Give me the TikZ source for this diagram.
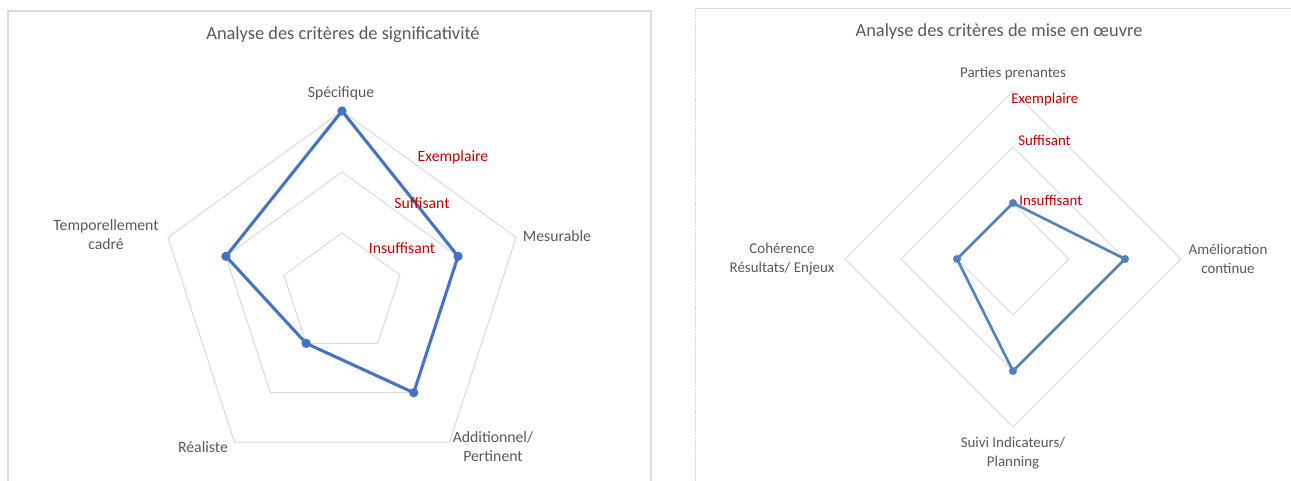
\documentclass[tikz,border=0pt]{standalone}
\usepackage{fontspec}
\setmainfont{Carlito}
\definecolor{txtgray}{HTML}{595959}
\definecolor{gridgray}{HTML}{D9D9D9}
\definecolor{framegray}{HTML}{DCDCDC}
\definecolor{serieA}{HTML}{4472C4}
\definecolor{serieB}{HTML}{4F81BD}
\definecolor{lvlred}{HTML}{C00000}
\tikzset{
  gridline/.style={draw=gridgray, line width=0.75pt},
  ttl/.style={inner sep=0pt, text=txtgray, font=\fontsize{13.8}{16}\selectfont},
  axlabA/.style={inner sep=0pt, text=txtgray, align=center, font=\fontsize{11.8}{14.2}\selectfont},
  axlabB/.style={inner sep=0pt, text=txtgray, align=center, font=\fontsize{11.2}{14}\selectfont},
  lvlA/.style={inner sep=0pt, text=lvlred, font=\fontsize{11.8}{14}\selectfont},
  lvlB/.style={inner sep=0pt, text=lvlred, anchor=west, font=\fontsize{11.2}{14}\selectfont},
  lineA/.style={draw=serieA, line width=2.3pt, line join=round},
  lineB/.style={draw=serieB, line width=1.9pt, line join=round},
  dotA/.style={circle, fill=serieA, inner sep=0pt, minimum size=7pt},
  dotB/.style={circle, fill=serieB, inner sep=0pt, minimum size=6pt},
}
\begin{document}
\begin{tikzpicture}[x=0.75pt,y=0.75pt]
\useasboundingbox (0,0) rectangle (1291,481);
% panel frames
\draw[framegray, line width=1.5pt] (7.5,0) -- (7.5,470) -- (650.5,470) -- (650.5,0);
\draw[framegray, line width=0.75pt, dash pattern=on 2pt off 0.6pt] (695.5,0) -- (695.5,472);
\draw[framegray, line width=0.75pt] (695.5,472) -- (1291,472);

% ---------- left chart ----------
\node[ttl] (titleA) at (343,446.5) {Analyse des critères de significativité};
\begin{scope}[shift={(342,187)}]
  \foreach \k in {1,2,3}{
    \draw[gridline] (90:61*\k) -- (18:61*\k) -- (-54:61*\k) -- (-126:61*\k) -- (162:61*\k) -- cycle;
  }
  \coordinate (a1) at (90:183);
  \coordinate (a2) at (18:122);
  \coordinate (a3) at (-54:122);
  \coordinate (a4) at (-126:61);
  \coordinate (a5) at (162:122);
  \draw[lineA] (a1) -- (a2) -- (a3) -- (a4) -- (a5) -- cycle;
  \foreach \p in {a1,a2,a3,a4,a5}{ \node[dotA] (d\p) at (\p) {}; }
\end{scope}
\node[axlabA] (spec) at (341,387.5) {Spécifique};
\node[axlabA] (mesu) at (557,244.5) {Mesurable};
\node[axlabA] (addi) at (493,34) {Additionnel/\\Pertinent};
\node[axlabA] (real) at (203,33.5) {Réaliste};
\node[axlabA] (temp) at (106,246.5) {Temporellement\\cadré};
\node[lvlA] (exA) at (453,323.5) {Exemplaire};
\node[lvlA] (suA) at (422,277.5) {Suffisant};
\node[lvlA] (inA) at (402,232.5) {Insuffisant};

% ---------- right chart ----------
\node[ttl] (titleB) at (999,449.5) {Analyse des critères de mise en œuvre};
\begin{scope}[shift={(1013,222)}]
  \foreach \k in {1,2,3}{
    \draw[gridline] (90:56*\k) -- (0:56*\k) -- (-90:56*\k) -- (180:56*\k) -- cycle;
  }
  \coordinate (b1) at (90:56);
  \coordinate (b2) at (0:112);
  \coordinate (b3) at (-90:112);
  \coordinate (b4) at (180:56);
  \draw[lineB] (b1) -- (b2) -- (b3) -- (b4) -- cycle;
  \foreach \p in {b1,b2,b3,b4}{ \node[dotB] (d\p) at (\p) {}; }
\end{scope}
\node[axlabB] (part) at (1013,407) {Parties prenantes};
\node[axlabB] (amel) at (1228,222) {Amélioration\\continue};
\node[axlabB] (suiv) at (1013,28) {Suivi Indicateurs/\\Planning};
\node[axlabB] (cohe) at (782,222) {Cohérence\\Résultats/ Enjeux};
\node[lvlB] (exB) at (1011,381.5) {Exemplaire};
\node[lvlB] (suB) at (1018,340.5) {Suffisant};
\node[lvlB] (inB) at (1019,281) {Insuffisant};
\end{tikzpicture}
\end{document}
